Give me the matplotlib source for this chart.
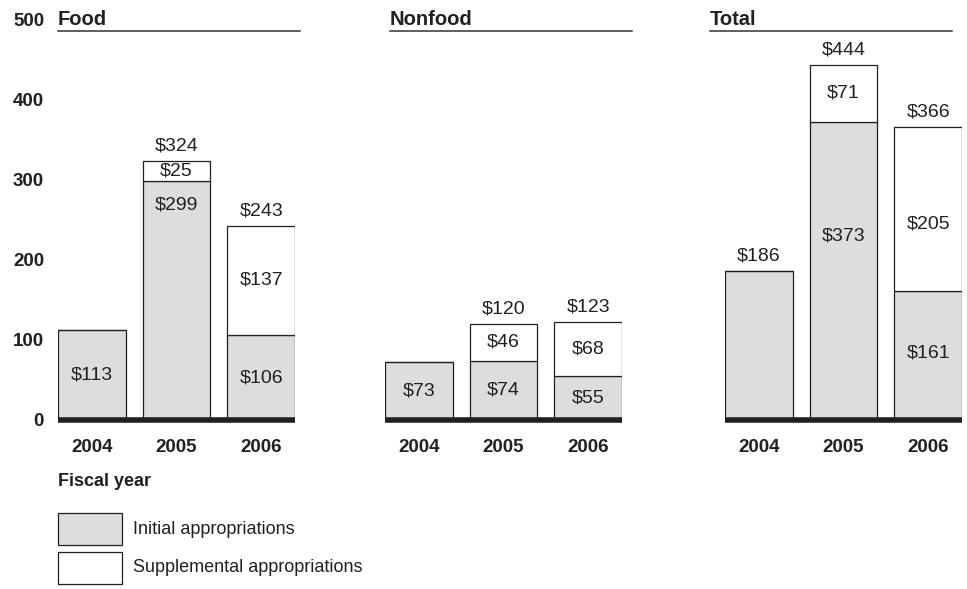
import matplotlib.pyplot as plt
from matplotlib.lines import Line2D
from matplotlib.patches import Rectangle

plt.rcParams['font.family'] = ['Liberation Sans', 'DejaVu Sans']
plt.rcParams['text.color'] = "#231f20"

# ===== DATA =====
YEARS = ["2004", "2005", "2006"]
PANELS = ["Food", "Nonfood", "Total"]
FOOD_INITIAL = [113, 299, 106]
FOOD_SUPPL = [0, 25, 137]
NONFOOD_INITIAL = [73, 74, 55]
NONFOOD_SUPPL = [0, 46, 68]
TOTAL_INITIAL = [186, 373, 161]
TOTAL_SUPPL = [0, 71, 205]
FOOD_TOTAL = [113, 324, 243]
NONFOOD_TOTAL = [73, 120, 123]
TOTAL_TOTAL = [186, 444, 366]

GRAY = "#dcdddf"
INK = "#231f20"
W, H = 967, 589

# label y overrides (data units) where the original is not centred
LABEL_Y = {("Food", 1, "init"): 269, ("Total", 1, "init"): 230, ("Total", 2, "sup"): 245,
           ("Total", 2, "init"): 84}

fig = plt.figure(figsize=(W / 100, H / 100), dpi=100)

def fx(px):
    return px / W

def fy(py):
    return 1 - py / H

panel_left = [58, 385, 725]
title_left = [58, 390, 710]
panel_w = 237
data = [
    (FOOD_INITIAL, FOOD_SUPPL, FOOD_TOTAL),
    (NONFOOD_INITIAL, NONFOOD_SUPPL, NONFOOD_TOTAL),
    (TOTAL_INITIAL, TOTAL_SUPPL, TOTAL_TOTAL),
]

for i, name in enumerate(PANELS):
    init, sup, tot = data[i]
    ax = fig.add_axes([fx(panel_left[i]), fy(420), fx(panel_w), 400 / H])
    x = range(len(YEARS))
    ax.bar(x, init, width=0.8, color=GRAY, edgecolor=INK, linewidth=0.9, zorder=2)
    ax.bar(x, sup, bottom=init, width=0.8, color="white", edgecolor=INK, linewidth=0.9, zorder=2)
    ax.set_xlim(-0.4, 2.4)
    ax.set_ylim(0, 500)
    ax.axhline(0, color=INK, linewidth=4, zorder=3, clip_on=False, solid_capstyle="butt")
    for s in ax.spines.values():
        s.set_visible(False)
    ax.set_xticks(list(x))
    ax.set_xticklabels(YEARS, fontsize=13.5, fontweight="bold", color=INK)
    ax.tick_params(axis="x", length=0, pad=14)
    if i == 0:
        ax.set_yticks([0, 100, 200, 300, 400, 500])
        ax.set_yticklabels(["0", "100", "200", "300", "400", "500"], fontsize=13.5,
                           fontweight="bold", color=INK)
        ax.tick_params(axis="y", length=0, pad=10)
    else:
        ax.set_yticks([])
    ax.patch.set_visible(False)

    for j in x:
        has_sup = sup[j] > 0
        if has_sup or name != "Total":
            yi = LABEL_Y.get((name, j, "init"), init[j] / 2)
            ax.text(j, yi, f"${init[j]}", ha="center", va="center", fontsize=14, zorder=4)
        if has_sup:
            ys = LABEL_Y.get((name, j, "sup"), init[j] + sup[j] / 2)
            ax.text(j, ys, f"${sup[j]}", ha="center", va="center", fontsize=14, zorder=4)
        if has_sup or name == "Total":
            ax.text(j, tot[j] + 8, f"${tot[j]}", ha="center", va="bottom", fontsize=14, zorder=4)

    # panel title with underline
    fig.text(fx(title_left[i]), fy(25), name, fontsize=14.5, fontweight="bold", ha="left", va="baseline")
    fig.add_artist(Line2D([fx(title_left[i]), fx(title_left[i] + 242)], [fy(31), fy(31)],
                          color="#333333", linewidth=1.1))

fig.text(fx(58), fy(481), "Fiscal year", fontsize=13, fontweight="bold", ha="left", va="center")

# legend
for k, (col, lab) in enumerate([(GRAY, "Initial appropriations"), ("white", "Supplemental appropriations")]):
    top = 513 + k * 39
    fig.add_artist(Rectangle((fx(58), fy(top + 32)), fx(64), 32 / H, facecolor=col,
                             edgecolor=INK, linewidth=0.9))
    fig.text(fx(133), fy(top + 16), lab, fontsize=13, ha="left", va="center")

fig.savefig("out.png", dpi=100)
